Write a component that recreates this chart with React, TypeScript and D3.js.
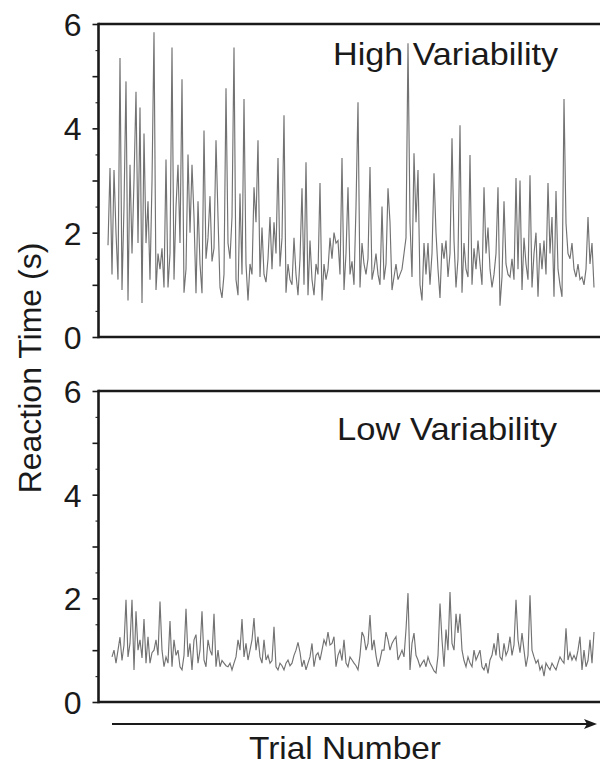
import React, { useEffect, useRef } from "react";
import * as d3 from "d3";

const panelTitles = ["High Variability", "Low Variability"];
const yTickLabels = [0, 2, 4, 6];
const xAxisLabel = "Trial Number";
const yAxisLabel = "Reaction Time (s)";

const highVariability = [
  1.76, 3.24, 1.2, 3.2, 2.0, 1.1, 5.35, 0.9, 2.5, 4.9,
  0.7, 3.3, 1.6, 3.0, 4.7, 1.8, 4.4, 0.65, 3.9, 1.8,
  2.6, 1.1, 2.97, 5.84, 0.9, 1.6, 1.3, 1.7, 0.95, 3.4,
  0.95, 1.6, 5.55, 1.1, 2.5, 3.3, 1.8, 4.94, 0.85, 1.3,
  3.5, 2.0, 3.3, 2.3, 0.84, 2.6, 1.4, 0.84, 3.96, 1.5,
  1.9, 2.7, 1.45, 1.7, 3.77, 2.3, 0.95, 0.75, 1.2, 4.77,
  1.8, 1.5, 2.3, 5.55, 1.1, 0.8, 2.75, 1.2, 4.56, 1.4,
  0.7, 1.4, 1.2, 2.87, 2.2, 3.77, 1.15, 2.1, 1.2, 1.05,
  1.5, 2.3, 1.3, 2.2, 1.6, 3.43, 1.35, 1.9, 4.25, 0.85,
  1.4, 1.1, 1.0, 1.9, 1.2, 0.8, 1.5, 2.85, 1.0, 3.35,
  0.8, 1.85, 1.1, 0.8, 1.4, 1.2, 2.95, 0.7, 1.4, 1.1,
  1.3, 1.9, 1.5, 2.0, 1.8, 1.85, 1.2, 3.43, 0.9, 1.6,
  2.87, 1.2, 1.45, 1.0, 2.5, 4.5, 0.95, 1.8, 1.4, 1.2,
  1.5, 3.26, 1.1, 1.3, 1.6, 1.2, 1.0, 2.5, 1.1, 1.4,
  2.85, 2.2, 0.9, 1.15, 1.4, 1.1, 1.2, 1.3, 1.6, 1.9,
  5.63, 2.2, 1.15, 3.52, 2.2, 3.2, 1.0, 0.7, 1.8, 1.2,
  1.8, 1.0, 1.6, 3.14, 2.0, 1.3, 0.75, 1.8, 1.5, 1.85,
  1.15, 1.6, 3.81, 1.85, 0.95, 1.5, 4.06, 0.85, 1.8, 1.3,
  1.15, 3.49, 1.0, 1.7, 1.3, 1.85, 1.4, 1.0, 2.87, 1.6,
  2.1, 1.3, 0.95, 1.2, 1.6, 2.87, 0.6, 1.15, 2.6, 1.4,
  1.2, 1.15, 1.5, 1.1, 3.05, 1.3, 3.0, 0.9, 1.9, 1.4,
  1.1, 3.1, 0.95, 1.6, 2.0, 0.77, 1.8, 1.3, 1.85, 1.2,
  2.95, 1.6, 2.3, 0.77, 2.8, 1.3, 1.0, 0.77, 4.56, 2.18,
  1.6, 1.5, 1.8, 1.3, 1.15, 1.4, 1.1, 1.15, 1.0, 1.3,
  2.3, 1.4, 1.8, 0.95,
];

const lowVariability = [
  0.87, 1.0, 0.75, 1.0, 1.25, 0.8, 1.1, 1.97, 0.87, 1.13,
  1.97, 0.62, 1.75, 1.0, 1.2, 0.85, 1.6, 0.75, 1.26, 0.75,
  0.95, 1.0, 1.2, 0.9, 1.94, 1.0, 0.68, 0.87, 0.75, 1.56,
  0.68, 1.2, 0.9, 1.0, 0.68, 0.62, 0.9, 1.8, 0.87, 1.13,
  0.62, 1.2, 1.3, 0.75, 1.0, 1.75, 0.81, 0.68, 1.2, 1.0,
  0.9, 1.7, 0.68, 1.0, 0.68, 0.8, 0.75, 0.7, 0.68, 0.75,
  0.62, 0.75, 0.87, 1.2, 1.0, 1.6, 0.87, 1.13, 0.81, 1.0,
  1.2, 1.62, 1.0, 1.26, 0.87, 0.75, 1.2, 0.81, 0.9, 0.75,
  0.8, 1.45, 0.68, 0.62, 0.75, 0.7, 0.62, 0.75, 0.81, 0.7,
  0.75, 0.9, 1.0, 1.15, 0.96, 0.68, 0.81, 0.62, 0.75, 0.87,
  1.13, 0.68, 0.9, 0.95, 0.81, 1.0, 1.2, 1.1, 1.35, 1.1,
  1.13, 1.26, 0.68, 0.9, 1.0, 0.8, 1.2, 0.75, 0.68, 0.87,
  0.81, 0.75, 0.7, 0.62, 0.9, 1.35, 1.26, 1.0, 1.13, 1.68,
  1.0, 1.2, 0.9, 0.68, 0.81, 1.0, 1.0, 1.35, 1.2, 1.0,
  1.13, 1.2, 1.26, 0.81, 0.9, 1.0, 0.87, 1.4, 2.1, 0.62,
  1.13, 1.33, 0.9, 0.81, 0.68, 0.75, 0.81, 0.68, 0.87, 0.75,
  0.68, 0.6, 0.56, 0.9, 1.9, 1.2, 0.68, 1.4, 1.0, 2.12,
  1.13, 1.0, 1.7, 1.33, 1.7, 1.0, 0.8, 0.68, 0.87, 0.75,
  0.68, 1.0, 0.81, 0.9, 1.0, 0.68, 0.62, 0.75, 0.55, 0.81,
  0.9, 1.13, 0.9, 1.33, 0.87, 0.81, 1.13, 0.9, 1.0, 1.26,
  0.9, 1.1, 1.97, 1.2, 0.95, 1.33, 1.0, 0.68, 0.9, 2.06,
  1.0, 0.87, 0.75, 0.81, 0.62, 0.7, 0.5, 0.75, 0.68, 0.62,
  0.75, 0.68, 0.62, 0.75, 0.87, 0.8, 0.75, 1.42, 0.81, 0.95,
  0.81, 0.9, 0.81, 1.0, 1.26, 0.62, 1.0, 0.68, 0.8, 1.2,
  0.75, 1.35,
];

const W = 600;
const H = 765;
const FONT = "Arial, 'Liberation Sans', Helvetica, sans-serif";

const panels = [
  { data: highVariability, title: panelTitles[0], top: 24, bottom: 337, x0: 108, x1: 594, titleX: 333, titleY: 65, titleLen: 225 },
  { data: lowVariability, title: panelTitles[1], top: 391, bottom: 702, x0: 112, x1: 594, titleX: 337, titleY: 440, titleLen: 220 },
];

export default function App() {
  const ref = useRef<SVGSVGElement>(null);

  useEffect(() => {
    const svg = d3.select(ref.current);
    svg.selectAll("*").remove();
    const axisX = 98.5;

    panels.forEach((p) => {
      const g = svg.append("g");
      const y = d3.scaleLinear().domain([0, 6]).range([p.bottom, p.top]);
      const x = d3.scaleLinear().domain([0, p.data.length - 1]).range([p.x0, p.x1]);

      const line = d3
        .line<number>()
        .x((_, i) => x(i))
        .y((d) => y(d));
      g.append("path")
        .datum(p.data)
        .attr("d", line)
        .attr("fill", "none")
        .attr("stroke", "#727272")
        .attr("stroke-width", 1.15)
        .attr("stroke-linejoin", "miter");

      const minor = d3.range(0, 6.01, 0.5).filter((v) => Math.abs(v - Math.round(v)) > 0.01);
      g.append("g")
        .attr("transform", `translate(${axisX},0)`)
        .call(d3.axisLeft(y).tickValues(minor).tickSize(3).tickFormat(() => ""))
        .call((a) => a.select(".domain").remove())
        .selectAll("line")
        .attr("stroke", "#333")
        .attr("stroke-width", 1.2);

      const major = d3.range(0, 7, 1);
      const ax = g
        .append("g")
        .attr("transform", `translate(${axisX},0)`)
        .call(
          d3
            .axisLeft(y)
            .tickValues(major)
            .tickSize(6)
            .tickPadding(11)
            .tickFormat((d) => (yTickLabels.includes(d as number) ? String(d) : ""))
        );
      ax.select(".domain").remove();
      ax.selectAll("line").attr("stroke", "#1a1a1a").attr("stroke-width", 1.6);
      ax.selectAll("text")
        .attr("font-family", FONT)
        .attr("font-size", 32)
        .attr("fill", "#1a1a1a")
        .attr("dy", "0.36em");

      g.append("line")
        .attr("x1", axisX).attr("x2", axisX)
        .attr("y1", p.top - 1.2).attr("y2", p.bottom + 1.2)
        .attr("stroke", "#1a1a1a").attr("stroke-width", 2.6);
      [p.top, p.bottom].forEach((yy) => {
        g.append("line")
          .attr("x1", axisX).attr("x2", W)
          .attr("y1", yy).attr("y2", yy)
          .attr("stroke", "#1a1a1a").attr("stroke-width", 2.6);
      });

      g.append("text")
        .attr("x", p.titleX)
        .attr("y", p.titleY)
        .attr("font-family", FONT)
        .attr("font-size", 32)
        .attr("fill", "#1a1a1a")
        .attr("textLength", p.titleLen)
        .attr("lengthAdjust", "spacingAndGlyphs")
        .text(p.title);
    });

    const ay = 724;
    svg.append("line")
      .attr("x1", 112).attr("x2", 588)
      .attr("y1", ay).attr("y2", ay)
      .attr("stroke", "#1a1a1a").attr("stroke-width", 2);
    svg.append("path")
      .attr("d", `M597,${ay} L584,${ay - 5} L587,${ay} L584,${ay + 5} Z`)
      .attr("fill", "#1a1a1a");

    svg.append("text")
      .attr("x", 249)
      .attr("y", 759)
      .attr("font-family", FONT)
      .attr("font-size", 32)
      .attr("fill", "#1a1a1a")
      .attr("textLength", 192)
      .attr("lengthAdjust", "spacingAndGlyphs")
      .text(xAxisLabel);

    svg.append("text")
      .attr("transform", `translate(41,368) rotate(-90)`)
      .attr("text-anchor", "middle")
      .attr("font-family", FONT)
      .attr("font-size", 32)
      .attr("fill", "#1a1a1a")
      .text(yAxisLabel);
  }, []);

  return (
    <svg
      ref={ref}
      width={W}
      height={H}
      style={{ position: "absolute", left: 0, top: 0, background: "#fff" }}
    />
  );
}
